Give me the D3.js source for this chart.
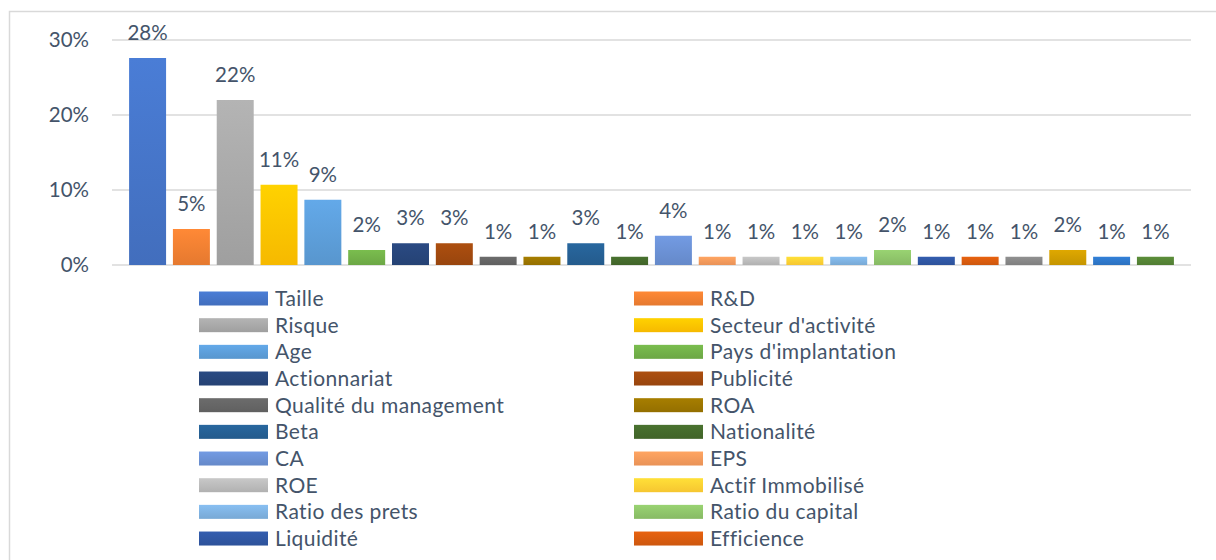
<!DOCTYPE html>
<html>
<head>
<meta charset="utf-8">
<script src="https://cdn.jsdelivr.net/npm/d3@7"></script>
<style>
  body { margin: 0; background: #fff; }
  svg { display: block; font-family: Lato, "Open Sans", sans-serif; }
  .labelText { fill: #44546a; }
</style>
</head>
<body>
<svg id="chart" width="1216" height="560"></svg>
<script>
const categories = [
  'Taille', 'R&D', 'Risque', "Secteur d'activité", 'Age', "Pays d'implantation",
  'Actionnariat', 'Publicité', 'Qualité du management', 'ROA', 'Beta', 'Nationalité',
  'CA', 'EPS', 'ROE', 'Actif Immobilisé', 'Ratio des prets', 'Ratio du capital',
  'Liquidité', 'Efficience', 'Série 21', 'Série 22', 'Série 23', 'Série 24',
];
const values = [
  0.276, 0.048, 0.22, 0.107, 0.087, 0.02,
  0.029, 0.029, 0.011, 0.011, 0.029, 0.011,
  0.039, 0.011, 0.011, 0.011, 0.011, 0.02,
  0.011, 0.011, 0.011, 0.02, 0.011, 0.011,
];
const colors = [
  '#4472c4', '#ed7d31', '#a5a5a5', '#ffc000', '#5b9bd5', '#70ad47',
  '#264478', '#9e480e', '#636363', '#997300', '#255e91', '#43682b',
  '#698ed0', '#f1975a', '#b7b7b7', '#ffcd33', '#7cafdd', '#8cc168',
  '#2f55a0', '#d45a0e', '#848484', '#cc9a00', '#2e75c6', '#548235',
];
const yTicks = [0, 0.1, 0.2, 0.3];
// only the first 20 legend entries are visible in the frame
const legendCount = 20;

const svg = d3.select('#chart');

// chart area border
svg.append('path')
  .attr('d', 'M9.5,560 V11.5 H1216')
  .attr('fill', 'none')
  .attr('stroke', '#d9d9d9')
  .attr('stroke-width', 1.5);

const x = d3.scaleBand()
  .domain(categories)
  .range([112, 1191])
  .paddingInner(0.156)
  .paddingOuter(0.39);

const y = d3.scaleLinear()
  .domain([0, 0.3])
  .range([265, 40]);

// gradients per bar
const defs = svg.append('defs');
colors.forEach((c, i) => {
  const g = defs.append('linearGradient')
    .attr('id', `grad${i}`)
    .attr('x1', 0).attr('y1', 0).attr('x2', 0).attr('y2', 1);
  g.append('stop').attr('offset', '0%').attr('stop-color', d3.color(c).brighter(0.25));
  g.append('stop').attr('offset', '100%').attr('stop-color', d3.color(c).darker(0.1));
});

// gridlines
svg.append('g')
  .selectAll('line')
  .data(yTicks)
  .enter()
  .append('line')
  .attr('x1', 112)
  .attr('x2', 1191)
  .attr('y1', (d) => y(d))
  .attr('y2', (d) => y(d))
  .attr('stroke', '#d9d9d9')
  .attr('stroke-width', 1.5);

// y axis labels
const yAxis = svg.append('g')
  .attr('transform', 'translate(89,0)')
  .call(d3.axisLeft(y).tickValues(yTicks).tickFormat(d3.format('.0%')).tickSize(0).tickPadding(0));
yAxis.select('.domain').remove();
yAxis.selectAll('text')
  .attr('class', 'labelText')
  .attr('font-size', 20.5)
  .attr('font-family', 'Lato, sans-serif');

// bars
svg.append('g')
  .selectAll('rect')
  .data(values)
  .enter()
  .append('rect')
  .attr('x', (d, i) => x(categories[i]))
  .attr('y', (d) => y(d))
  .attr('width', x.bandwidth())
  .attr('height', (d) => y(0) - y(d))
  .attr('fill', (d, i) => `url(#grad${i})`);

// data labels
svg.append('g')
  .selectAll('text')
  .data(values)
  .enter()
  .append('text')
  .text((d) => d3.format('.0%')(d))
  .attr('x', (d, i) => x(categories[i]) + x.bandwidth() / 2)
  .attr('y', (d) => y(d) - 18)
  .attr('text-anchor', 'middle')
  .attr('font-size', 20.5)
  .attr('class', 'labelText');

// legend, two columns
const legend = svg.append('g');
const legendItems = categories.slice(0, legendCount);
const rowY = (i) => 298.5 + Math.floor(i / 2) * 26.67;
const colX = (i) => (i % 2 === 0 ? 199 : 634);

legend.selectAll('rect')
  .data(legendItems)
  .enter()
  .append('rect')
  .attr('x', (d, i) => colX(i))
  .attr('y', (d, i) => rowY(i) - 7)
  .attr('width', 69)
  .attr('height', 14)
  .attr('fill', (d, i) => `url(#grad${i})`);

legend.selectAll('text')
  .data(legendItems)
  .enter()
  .append('text')
  .text((d) => d)
  .attr('x', (d, i) => colX(i) + 76)
  .attr('y', (d, i) => rowY(i))
  .attr('dy', '0.36em')
  .attr('font-size', 21)
  .attr('letter-spacing', 0.4)
  .attr('class', 'labelText');
</script>
</body>
</html>
